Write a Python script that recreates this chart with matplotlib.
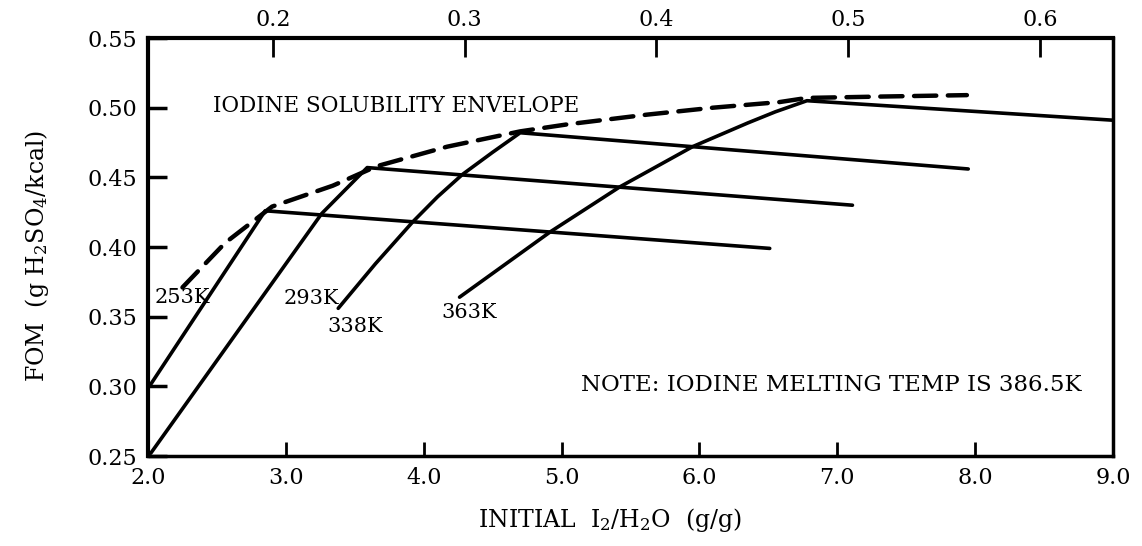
import matplotlib
matplotlib.use('Agg')
import matplotlib.pyplot as plt
import numpy as np

plt.rcParams['font.family'] = 'DejaVu Serif'
plt.rcParams['mathtext.fontset'] = 'dejavuserif'

# curvas por temperatura: subida ate o envelope e depois a reta quase plana
x_253 = [2.01, 2.85, 6.51]
y_253 = [0.300, 0.426, 0.399]

x_293 = [2.02, 3.26, 3.45, 3.59, 7.11]
y_293 = [0.252, 0.424, 0.443, 0.457, 0.430]

x_338 = [3.38, 3.65, 3.92, 4.10, 4.28, 4.50, 4.70, 7.95]
y_338 = [0.356, 0.388, 0.418, 0.436, 0.452, 0.468, 0.482, 0.456]

x_363 = [4.26, 4.92, 5.42, 5.95, 6.35, 6.55, 6.78, 9.00]
y_363 = [0.364, 0.411, 0.443, 0.472, 0.489, 0.497, 0.505, 0.491]

# envelope de solubilidade do iodo (tracejado)
env_x = [2.25, 2.56, 2.90, 3.34, 3.66, 4.17, 4.70, 5.04, 5.62, 6.10, 6.58, 6.78, 7.33, 7.94]
env_y = [0.371, 0.403, 0.429, 0.444, 0.458, 0.472, 0.483, 0.488, 0.495, 0.500, 0.504, 0.507, 0.508, 0.509]

rotulos = ['253K', '293K', '338K', '363K']
rotulos_x = [2.05, 2.98, 3.30, 4.13]
rotulos_y = [0.364, 0.363, 0.343, 0.353]

x_ticks = [2.0, 3.0, 4.0, 5.0, 6.0, 7.0, 8.0, 9.0]
y_ticks = [0.25, 0.30, 0.35, 0.40, 0.45, 0.50, 0.55]
top_ticks = [0.2, 0.3, 0.4, 0.5, 0.6]


def para_topo(x):
    return 0.2 + (np.asarray(x) - 2.906) / 13.91


def de_topo(t):
    return 2.906 + (np.asarray(t) - 0.2) * 13.91


fig = plt.figure(figsize=(11.42, 5.46), dpi=100)
ax = fig.add_axes([0.1296, 0.1648, 0.8450, 0.7656])

for xs, ys in [(x_253, y_253), (x_293, y_293), (x_338, y_338), (x_363, y_363)]:
    ax.plot(xs, ys, color='black', lw=2.6, solid_capstyle='round',
            solid_joinstyle='round', clip_on=False)

ax.plot(env_x, env_y, color='black', lw=3.2, dashes=(5.0, 2.6),
        dash_capstyle='round')

for texto, tx, ty in zip(rotulos, rotulos_x, rotulos_y):
    ax.text(tx, ty, texto, fontsize=15, ha='left', va='center')

ax.text(2.47, 0.501, 'IODINE SOLUBILITY ENVELOPE', fontsize=15.5,
        ha='left', va='center')
ax.text(8.77, 0.301, 'NOTE: IODINE MELTING TEMP IS 386.5K', fontsize=16.5,
        ha='right', va='center')

ax.set_xlim(2.0, 9.0)
ax.set_ylim(0.25, 0.55)
ax.set_xticks(x_ticks)
ax.set_xticklabels(['%.1f' % v for v in x_ticks])
ax.set_yticks(y_ticks)
ax.set_yticklabels(['%.2f' % v for v in y_ticks])

ax.tick_params(axis='x', direction='in', length=10, width=2, labelsize=16, pad=8)
ax.tick_params(axis='y', direction='in', length=14, width=2.5, labelsize=16, pad=8)

for lado in ['left', 'top']:
    ax.spines[lado].set_linewidth(3.0)
for lado in ['right', 'bottom']:
    ax.spines[lado].set_linewidth(2.5)

topo = ax.secondary_xaxis('top', functions=(para_topo, de_topo))
topo.set_xticks(top_ticks)
topo.set_xticklabels(['%.1f' % v for v in top_ticks])
topo.tick_params(direction='in', length=14, width=2, labelsize=16, pad=5)
topo.spines['top'].set_visible(False)

ax.set_xlabel('INITIAL  I$_2$/H$_2$O  (g/g)', fontsize=17, labelpad=12, x=0.479)
ax.set_ylabel('FOM  (g H$_2$SO$_4$/kcal)', fontsize=17, labelpad=26, y=0.48)

plt.savefig('out.png', dpi=100)
